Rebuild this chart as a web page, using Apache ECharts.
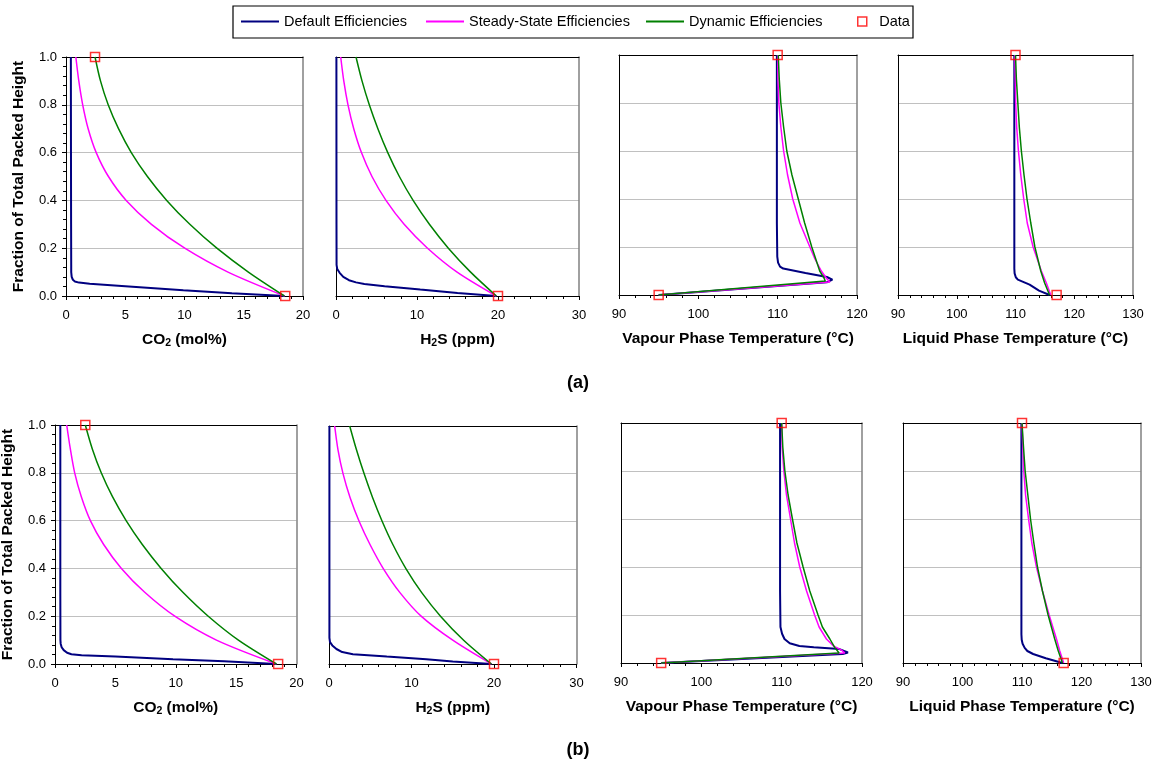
<!DOCTYPE html>
<html>
<head>
<meta charset="utf-8">
<script src="https://cdn.jsdelivr.net/npm/echarts@6/dist/echarts.min.js"></script>
<style>
html,body{margin:0;padding:0;background:#ffffff;}
#chart{width:1162px;height:771px;}
</style>
</head>
<body>
<div id="chart"></div>
<script>
// ---------------- DATA ----------------
const seriesNames = ['Default Efficiencies', 'Steady-State Efficiencies', 'Dynamic Efficiencies', 'Data'];
const yTickValues = [0, 0.2, 0.4, 0.6, 0.8, 1.0];

// Row (a)  points are [x value, fraction of packed height]
const a_co2_default = [[18.45,0],[14,0.012],[9.9,0.024],[5,0.041],[2,0.051],[1.1,0.056],[0.75,0.061],[0.58,0.068],[0.48,0.08],[0.44,0.1],[0.44,0.13],[0.43,0.3],[0.42,0.6],[0.41,1]];
const a_co2_steady = [[18.45,0],[13.67,0.1],[10.02,0.2],[7.21,0.3],[5.08,0.4],[3.58,0.5],[2.55,0.6],[1.87,0.7],[1.41,0.8],[1.08,0.9],[0.83,1]];
const a_co2_dynamic = [[18.43,0],[15.39,0.1],[12.73,0.2],[10.45,0.3],[8.5,0.4],[6.87,0.5],[5.51,0.6],[4.43,0.7],[3.56,0.8],[2.91,0.9],[2.45,1]];
const a_co2_data = [[2.45,1],[18.5,0]];

const a_h2s_default = [[19.8,0],[15,0.013],[10.4,0.027],[6,0.041],[3.5,0.05],[2.47,0.057],[1.6,0.066],[0.9,0.08],[0.45,0.097],[0.15,0.113],[0.07,0.13],[0.06,0.3],[0.05,1]];
const a_h2s_steady = [[19.8,0],[14.95,0.1],[11.3,0.2],[8.41,0.3],[6.17,0.4],[4.44,0.5],[3.14,0.6],[2.19,0.7],[1.48,0.8],[0.96,0.9],[0.58,1]];
const a_h2s_dynamic = [[19.8,0],[16.62,0.1],[13.87,0.2],[11.53,0.3],[9.52,0.4],[7.82,0.5],[6.39,0.6],[5.17,0.7],[4.11,0.8],[3.21,0.9],[2.47,1]];
const a_h2s_data = [[20,0]];

const a_tv_default = [[95,0],[116.2,0.053],[116.9,0.064],[116.2,0.075],[113.5,0.092],[110.7,0.11],[110.3,0.118],[110.05,0.135],[109.95,0.16],[109.9,0.3],[109.9,1]];
const a_tv_steady = [[95,0],[116.59,0.054],[116.17,0.069],[115.5,0.1],[114.7,0.15],[114.06,0.2],[112.8,0.3],[111.9,0.4],[111.25,0.5],[110.75,0.6],[110.4,0.7],[110.15,0.8],[110.03,0.9],[110,1]];
const a_tv_dynamic = [[95,0],[116.0,0.058],[115.85,0.07],[115.3,0.1],[114.8,0.15],[114.3,0.2],[113.4,0.3],[112.6,0.4],[111.8,0.5],[111.15,0.6],[110.75,0.7],[110.4,0.8],[110.2,0.9],[110.07,1]];
const a_tv_data = [[110,1],[95,0]];

const a_tl_default = [[115.8,0],[114,0.018],[112.4,0.043],[111.2,0.056],[110.4,0.064],[110.05,0.074],[109.85,0.09],[109.8,0.11],[109.8,0.3],[109.8,1]];
const a_tl_steady = [[116,0],[115.25,0.05],[114.4,0.1],[113.7,0.15],[113.0,0.2],[112.0,0.3],[111.4,0.4],[110.9,0.5],[110.5,0.6],[110.2,0.7],[110.03,0.8],[109.95,0.9],[109.9,1]];
const a_tl_dynamic = [[115.8,0],[114.96,0.05],[114.3,0.1],[113.3,0.2],[112.6,0.3],[111.96,0.4],[111.45,0.5],[111.0,0.6],[110.65,0.7],[110.4,0.8],[110.15,0.9],[110.0,1]];
const a_tl_data = [[110,1],[117,0]];

// Row (b)
const b_co2_default = [[18.34,0],[14,0.011],[9.77,0.02],[5,0.031],[2.2,0.037],[1.36,0.041],[1.0,0.047],[0.72,0.058],[0.55,0.07],[0.47,0.085],[0.45,0.1],[0.44,0.3],[0.44,1]];
const b_co2_steady = [[18.34,0],[13.37,0.1],[9.92,0.2],[7.43,0.3],[5.5,0.4],[4.03,0.5],[2.93,0.6],[2.18,0.7],[1.63,0.8],[1.27,0.9],[0.97,1]];
const b_co2_dynamic = [[18.34,0],[15.19,0.1],[12.69,0.2],[10.59,0.3],[8.79,0.4],[7.23,0.5],[5.89,0.6],[4.76,0.7],[3.83,0.8],[3.09,0.9],[2.51,1]];
const b_co2_data = [[2.51,1],[18.48,0]];

const b_h2s_default = [[19.7,0],[15,0.01],[11.8,0.02],[7,0.031],[2.9,0.041],[1.6,0.05],[0.9,0.063],[0.4,0.078],[0.12,0.092],[0.05,0.11],[0.05,0.3],[0.05,1]];
const b_h2s_steady = [[19.69,0],[15,0.1],[11.2,0.2],[8.6,0.3],[6.6,0.4],[5.0,0.5],[3.65,0.6],[2.55,0.7],[1.7,0.8],[1.09,0.9],[0.69,1]];
const b_h2s_dynamic = [[19.69,0],[16.32,0.1],[13.54,0.2],[11.24,0.3],[9.34,0.4],[7.77,0.5],[6.44,0.6],[5.28,0.7],[4.25,0.8],[3.33,0.9],[2.51,1]];
const b_h2s_data = [[20,0]];

const b_tv_default = [[95,0],[117.6,0.037],[118.25,0.044],[117.2,0.058],[114,0.066],[112.2,0.071],[111.0,0.082],[110.35,0.1],[110.05,0.122],[109.85,0.15],[109.8,0.3],[109.8,1]];
const b_tv_steady = [[95,0],[117.85,0.042],[117.4,0.055],[116.48,0.07],[115.57,0.1],[114.66,0.15],[114.1,0.2],[113.1,0.3],[112.25,0.4],[111.6,0.5],[111.1,0.6],[110.6,0.7],[110.27,0.8],[110.06,0.9],[110,1]];
const b_tv_dynamic = [[95,0],[117.15,0.042],[116.6,0.065],[116.0,0.1],[115.07,0.15],[114.53,0.2],[113.5,0.3],[112.67,0.4],[111.9,0.5],[111.34,0.6],[110.8,0.7],[110.4,0.8],[110.14,0.9],[110,1]];
const b_tv_data = [[110,1],[95,0]];

const b_tl_default = [[116.8,0],[114,0.02],[111.87,0.0375],[110.9,0.05],[110.45,0.063],[110.1,0.08],[109.95,0.097],[109.9,0.12],[109.9,1]];
const b_tl_steady = [[117,0],[116.35,0.05],[115.79,0.1],[114.56,0.2],[113.44,0.3],[112.43,0.4],[111.65,0.5],[111.1,0.6],[110.6,0.7],[110.3,0.8],[110.14,0.9],[110,1]];
const b_tl_dynamic = [[116.8,0],[116.1,0.05],[115.5,0.1],[114.39,0.2],[113.44,0.3],[112.6,0.4],[111.99,0.5],[111.43,0.6],[110.98,0.7],[110.53,0.8],[110.25,0.9],[110,1]];
const b_tl_data = [[110,1],[117,0]];

// x-axis ranges [min, max, interval]
const co2Range = [0, 20, 5];
const h2sRange = [0, 30, 10];
const tvRange = [90, 120, 10];
const tlRange = [90, 130, 10];

// axis titles
const yTitle = 'Fraction of Total Packed Height';
const co2Title = '{b|CO}{s|2}{b| (mol%)}';
const h2sTitle = '{b|H}{s|2}{b|S (ppm)}';
const tvTitle = '{b|Vapour Phase Temperature (°C)}';
const tlTitle = '{b|Liquid Phase Temperature (°C)}';
const rowLabels = ['(a)', '(b)'];

// ---------------- LAYOUT / STYLE ----------------
const FONT = "'Liberation Sans', Arial, Helvetica, sans-serif";
const COLORS = ['#000080', '#ff00ff', '#008000', '#ff0000'];

const panels = [
  {box:{left:66, top:57, width:237, height:239}, range:co2Range, title:co2Title, lines:[a_co2_default,a_co2_steady,a_co2_dynamic], marks:a_co2_data, yLabels:true, smooth:true},
  {box:{left:336, top:57, width:243, height:239}, range:h2sRange, title:h2sTitle, lines:[a_h2s_default,a_h2s_steady,a_h2s_dynamic], marks:a_h2s_data, yLabels:false, smooth:true},
  {box:{left:619, top:55, width:238, height:240}, range:tvRange, title:tvTitle, lines:[a_tv_default,a_tv_steady,a_tv_dynamic], marks:a_tv_data, yLabels:false, smooth:false},
  {box:{left:898, top:55, width:235, height:240}, range:tlRange, title:tlTitle, lines:[a_tl_default,a_tl_steady,a_tl_dynamic], marks:a_tl_data, yLabels:false, smooth:false},
  {box:{left:55, top:425, width:241.5, height:239}, range:co2Range, title:co2Title, lines:[b_co2_default,b_co2_steady,b_co2_dynamic], marks:b_co2_data, yLabels:true, smooth:true},
  {box:{left:329, top:426, width:247.5, height:238}, range:h2sRange, title:h2sTitle, lines:[b_h2s_default,b_h2s_steady,b_h2s_dynamic], marks:b_h2s_data, yLabels:false, smooth:true},
  {box:{left:621, top:423, width:241, height:240}, range:tvRange, title:tvTitle, lines:[b_tv_default,b_tv_steady,b_tv_dynamic], marks:b_tv_data, yLabels:false, smooth:false},
  {box:{left:903, top:423, width:238, height:240}, range:tlRange, title:tlTitle, lines:[b_tl_default,b_tl_steady,b_tl_dynamic], marks:b_tl_data, yLabels:false, smooth:false}
];

const richTitle = {
  b: {fontFamily: FONT, fontSize: 15.5, fontWeight: 'bold', color: '#000', lineHeight: 18},
  s: {fontFamily: FONT, fontSize: 10.5, fontWeight: 'bold', color: '#000', lineHeight: 9, verticalAlign: 'bottom'}
};

const grids = [], xAxes = [], yAxes = [], series = [];

panels.forEach((p, i) => {
  grids.push(Object.assign({containLabel: false, outerBoundsMode: 'none', show: false}, p.box));
  const mainX = xAxes.length;
  xAxes.push({
    type: 'value', gridIndex: i, position: 'bottom',
    min: p.range[0], max: p.range[1], interval: p.range[2],
    axisLine: {show: true, onZero: false, lineStyle: {color: '#000', width: 1}},
    axisTick: {show: true, inside: false, length: 4, lineStyle: {color: '#000', width: 1}},
    minorTick: {show: true, splitNumber: 5, length: 3, lineStyle: {color: '#000', width: 1}},
    axisLabel: {show: true, margin: 13, fontSize: 13, color: '#000', fontFamily: FONT},
    splitLine: {show: false}, minorSplitLine: {show: false},
    name: p.title, nameLocation: 'middle', nameGap: 35,
    nameTextStyle: {rich: richTitle, fontFamily: FONT}
  });
  xAxes.push({
    type: 'value', gridIndex: i, position: 'top',
    min: p.range[0], max: p.range[1], interval: p.range[2],
    axisLine: {show: true, onZero: false, lineStyle: {color: '#000', width: 1}},
    axisTick: {show: false}, minorTick: {show: false}, axisLabel: {show: false},
    splitLine: {show: false}
  });
  const mainY = yAxes.length;
  yAxes.push({
    type: 'value', gridIndex: i, position: 'left',
    min: yTickValues[0], max: yTickValues[yTickValues.length - 1], interval: yTickValues[1] - yTickValues[0],
    axisLine: {show: true, onZero: false, lineStyle: {color: '#000', width: 1}},
    axisTick: {show: p.yLabels, inside: false, length: 4, lineStyle: {color: '#000', width: 1}},
    minorTick: {show: p.yLabels, splitNumber: 5, length: 3, lineStyle: {color: '#000', width: 1}},
    axisLabel: {show: p.yLabels, margin: 9, fontSize: 13, color: '#000', fontFamily: FONT,
      formatter: v => v.toFixed(1)},
    splitLine: {show: true, lineStyle: {color: '#c0c0c0', width: 1}},
    minorSplitLine: {show: false},
    name: p.yLabels ? yTitle : '', nameLocation: 'middle', nameRotate: 90, nameGap: 39,
    nameTextStyle: {fontFamily: FONT, fontSize: 15.5, fontWeight: 'bold', color: '#000'}
  });
  yAxes.push({
    type: 'value', gridIndex: i, position: 'right',
    min: 0, max: 1, interval: 0.2,
    axisLine: {show: true, onZero: false, lineStyle: {color: '#808080', width: 1.5}},
    axisTick: {show: false}, minorTick: {show: false}, axisLabel: {show: false},
    splitLine: {show: false}
  });
  p.lines.forEach((d, k) => {
    series.push({
      type: 'line', name: seriesNames[k], data: d,
      xAxisIndex: mainX, yAxisIndex: mainY,
      symbol: 'none', showSymbol: false, clip: false,
      smooth: (p.smooth && k > 0) ? 0.3 : false,
      lineStyle: {color: COLORS[k], width: k === 0 ? 2 : 1.5},
      itemStyle: {color: COLORS[k]},
      z: 2 + k
    });
  });
  series.push({
    type: 'scatter', name: seriesNames[3], data: p.marks,
    xAxisIndex: mainX, yAxisIndex: mainY,
    symbol: 'rect', symbolSize: 9, clip: false,
    itemStyle: {color: 'rgba(255,255,255,0)', borderColor: COLORS[3], borderWidth: 1.5},
    z: 10
  });
});

const legendBase = {
  orient: 'horizontal', top: 14, padding: 0, itemGap: 10,
  textStyle: {fontFamily: FONT, fontSize: 14.5, color: '#000'},
  selectedMode: false
};
const legends = [0, 1, 2].map((k, idx) => Object.assign({}, legendBase, {
  left: [241, 426, 646][idx], itemWidth: 38, itemHeight: 2, icon: 'rect',
  data: [{name: seriesNames[k], itemStyle: {color: COLORS[k], borderWidth: 0}}]
}));
legends.push(Object.assign({}, legendBase, {
  left: 857, itemWidth: 24, itemHeight: 9, symbolKeepAspect: true,
  data: [{name: seriesNames[3], icon: 'path://M0,0L10,0L10,10L0,10Z',
    itemStyle: {color: 'rgba(255,255,255,0)', borderColor: COLORS[3], borderWidth: 1.5}}]
}));

const option = {
  animation: false,
  backgroundColor: '#ffffff',
  textStyle: {fontFamily: FONT},
  grid: grids,
  xAxis: xAxes,
  yAxis: yAxes,
  legend: legends,
  series: series,
  graphic: [
    {type: 'rect', shape: {x: 233, y: 6, width: 680, height: 32}, style: {fill: 'none', stroke: '#000', lineWidth: 1.2}, silent: true},
    {type: 'text', x: 578, y: 383, style: {text: rowLabels[0], font: 'bold 18px ' + FONT, fill: '#000', align: 'center', verticalAlign: 'middle'}},
    {type: 'text', x: 578, y: 750, style: {text: rowLabels[1], font: 'bold 18px ' + FONT, fill: '#000', align: 'center', verticalAlign: 'middle'}}
  ]
};

const chart = echarts.init(document.getElementById('chart'), null, {renderer: 'canvas'});
chart.setOption(option);
</script>
</body>
</html>
